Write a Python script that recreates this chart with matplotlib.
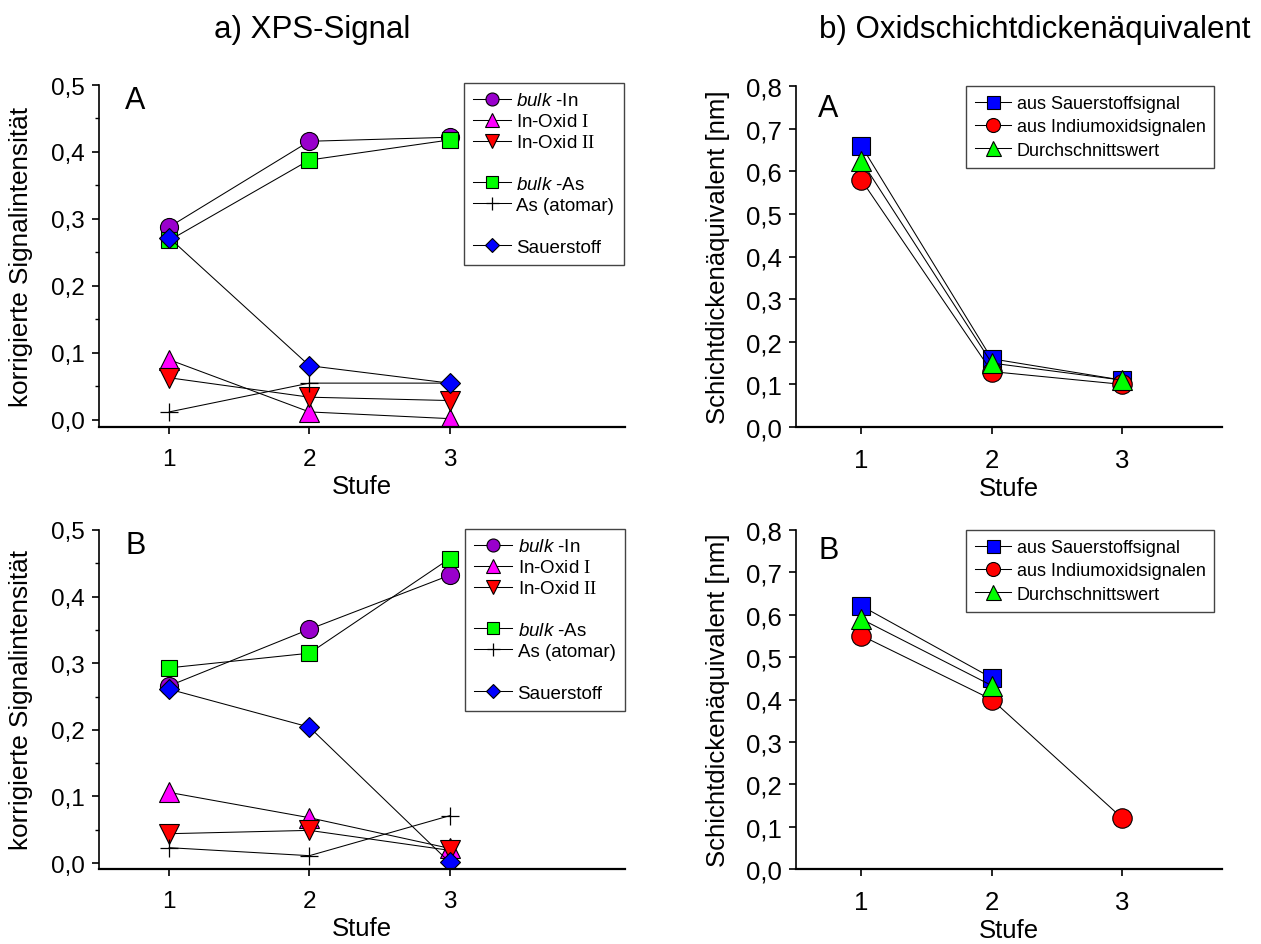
import matplotlib
matplotlib.use("Agg")
import matplotlib.pyplot as plt
from matplotlib.lines import Line2D

plt.rcParams['font.family'] = ['Liberation Sans', 'DejaVu Sans']
plt.rcParams['mathtext.fontset'] = 'custom'
plt.rcParams['mathtext.it'] = 'Liberation Sans:italic'
plt.rcParams['mathtext.rm'] = 'Liberation Serif'

# ---------------- data ----------------
stufe = [1, 2, 3]

# a) XPS-Signal, panel A
A_bulk_in = [0.288, 0.416, 0.422]
A_oxid1 = [0.090, 0.012, 0.002]
A_oxid2 = [0.063, 0.034, 0.029]
A_bulk_as = [0.268, 0.388, 0.418]
A_as_atom = [0.012, 0.055, 0.055]
A_sauer = [0.272, 0.081, 0.055]

# a) XPS-Signal, panel B
B_bulk_in = [0.266, 0.351, 0.432]
B_oxid1 = [0.106, 0.068, 0.022]
B_oxid2 = [0.044, 0.049, 0.019]
B_bulk_as = [0.293, 0.315, 0.457]
B_as_atom = [0.023, 0.011, 0.071]
B_sauer = [0.261, 0.204, 0.001]

# b) Oxidschichtdickenäquivalent
A_dick_sauer = [0.660, 0.160, 0.110]
A_dick_indium = [0.580, 0.130, 0.100]
A_dick_mittel = [0.625, 0.150, 0.110]
B_dick_stufe = [1, 2]
B_dick_sauer = [0.621, 0.451]
B_dick_indium = [0.551, 0.400, 0.120]
B_dick_mittel = [0.590, 0.433]

xps_yticks = [0.0, 0.1, 0.2, 0.3, 0.4, 0.5]
xps_yticklabels = ['0,0', '0,1', '0,2', '0,3', '0,4', '0,5']
d_yticks = [0.0, 0.1, 0.2, 0.3, 0.4, 0.5, 0.6, 0.7, 0.8]
d_yticklabels = ['0,0', '0,1', '0,2', '0,3', '0,4', '0,5', '0,6', '0,7', '0,8']

xps_labels = [r'$\mathit{bulk}$ -In', r'In-Oxid $\mathrm{I}$', r'In-Oxid $\mathrm{II}$',
              r'$\mathit{bulk}$ -As', 'As (atomar)', 'Sauerstoff']
d_labels = ['aus Sauerstoffsignal', 'aus Indiumoxidsignalen', 'Durchschnittswert']

PURPLE = '#9900CC'
MAGENTA = '#FF00FF'
RED = '#FF0000'
GREEN = '#00FF00'
BLUE = '#0000FF'

W, H = 1261, 945
fig = plt.figure(figsize=(W / 100, H / 100), dpi=100)


def add_ax(l, r, t, b):
    return fig.add_axes([l / W, 1 - b / H, (r - l) / W, (b - t) / H])


def style_ax(ax, big):
    for s in ['top', 'right']:
        ax.spines[s].set_visible(False)
    ax.spines['left'].set_linewidth(1.2)
    ax.spines['bottom'].set_linewidth(1.6)
    ax.set_xticks(stufe)
    ax.set_xticklabels(['1', '2', '3'])
    ax.tick_params(axis='both', direction='out', length=5, width=1.2,
                   labelsize=18.5 if big else 17.5)
    ax.tick_params(axis='x', pad=10)
    ax.tick_params(axis='y', pad=5)
    ax.set_xlabel('Stufe', fontsize=18.5, labelpad=3)


def xps_panel(ax, letter, bi, o1, o2, ba, aa, sa, ymin):
    lw = 0.75
    ax.plot(stufe, bi, '-', color='k', lw=lw, marker='o', ms=13, mfc=PURPLE, mec='k', mew=0.8, label=xps_labels[0])
    ax.plot(stufe, o1, '-', color='k', lw=lw, marker='^', ms=14, mfc=MAGENTA, mec='k', mew=0.8, label=xps_labels[1])
    ax.plot(stufe, o2, '-', color='k', lw=lw, marker='v', ms=14, mfc=RED, mec='k', mew=0.8, label=xps_labels[2])
    ax.plot(stufe, ba, '-', color='k', lw=lw, marker='s', ms=11.5, mfc=GREEN, mec='k', mew=0.8, label=xps_labels[3])
    ax.plot(stufe, aa, '-', color='k', lw=lw, marker='+', ms=13, mec='k', mew=0.9, label=xps_labels[4])
    ax.plot(stufe, sa, '-', color='k', lw=lw, marker='D', ms=10.5, mfc=BLUE, mec='k', mew=0.8, label=xps_labels[5])
    ax.set_xlim(0.5, 4.25)
    ax.set_ylim(ymin, 0.5)
    ax.set_yticks(xps_yticks)
    ax.set_yticklabels(xps_yticklabels)
    ax.set_yticks([0.05, 0.15, 0.25, 0.35, 0.45], minor=True)
    ax.tick_params(axis='y', which='minor', direction='out', length=3, width=1.0)
    ax.set_ylabel('korrigierte Signalintensität', fontsize=18.8, labelpad=13)
    ax.text(0.05, 1.0, letter, transform=ax.transAxes, fontsize=22, va='top', ha='left')
    h, l = ax.get_legend_handles_labels()
    blank = Line2D([], [], linestyle='none', marker=None)
    handles = [h[0], h[1], h[2], blank, h[3], h[4], blank, h[5]]
    labels = [l[0], l[1], l[2], '', l[3], l[4], '', l[5]]
    return handles, labels


def dick_panel(ax, letter, xs, s, xi, i, xm, m, ty):
    lw = 0.75
    ax.plot(xs, s, '-', color='k', lw=lw, marker='s', ms=13, mfc=BLUE, mec='k', mew=0.8, label=d_labels[0])
    ax.plot(xi, i, '-', color='k', lw=lw, marker='o', ms=14, mfc=RED, mec='k', mew=0.8, label=d_labels[1])
    ax.plot(xm, m, '-', color='k', lw=lw, marker='^', ms=15, mfc=GREEN, mec='k', mew=0.8, label=d_labels[2])
    ax.set_xlim(0.5, 3.765)
    ax.set_ylim(0.0, 0.8)
    ax.set_yticks(d_yticks)
    ax.set_yticklabels(d_yticklabels)
    ax.set_ylabel('Schichtdickenäquivalent [nm]', fontsize=18.5, labelpad=12)
    ax.text(0.052, ty, letter, transform=ax.transAxes, fontsize=22, va='top', ha='left')


LEG_KW = dict(loc='upper left', bbox_transform=fig.transFigure, frameon=True, fancybox=False,
              edgecolor='#444444', framealpha=1, handlelength=2.0, handletextpad=0.3,
              borderpad=0.5, borderaxespad=0, markerscale=0.72)

# ---- top-left
ax1 = add_ax(99, 625, 86, 428)
style_ax(ax1, False)
hd, lb = xps_panel(ax1, 'A', A_bulk_in, A_oxid1, A_oxid2, A_bulk_as, A_as_atom, A_sauer, -0.0105)
leg = ax1.legend(hd, lb, bbox_to_anchor=(464 / W, 1 - 84 / H), fontsize=13.5, labelspacing=0.2, **LEG_KW)
leg.get_frame().set_linewidth(1.0)

# ---- bottom-left
ax3 = add_ax(99, 625, 531, 870)
style_ax(ax3, False)
hd, lb = xps_panel(ax3, 'B', B_bulk_in, B_oxid1, B_oxid2, B_bulk_as, B_as_atom, B_sauer, -0.009)
leg = ax3.legend(hd, lb, bbox_to_anchor=(465 / W, 1 - 530 / H), fontsize=13.5, labelspacing=0.2, **LEG_KW)
leg.get_frame().set_linewidth(1.0)

# ---- top-right
ax2 = add_ax(796, 1222, 87, 428)
style_ax(ax2, True)
dick_panel(ax2, 'A', stufe, A_dick_sauer, stufe, A_dick_indium, stufe, A_dick_mittel, 0.98)
leg = ax2.legend(bbox_to_anchor=(966 / W, 1 - 87 / H), fontsize=13, labelspacing=0.35, **LEG_KW)
leg.get_frame().set_linewidth(1.0)

# ---- bottom-right
ax4 = add_ax(796, 1222, 531, 870)
style_ax(ax4, True)
dick_panel(ax4, 'B', B_dick_stufe, B_dick_sauer, stufe, B_dick_indium, B_dick_stufe, B_dick_mittel, 0.985)
leg = ax4.legend(bbox_to_anchor=(966 / W, 1 - 531 / H), fontsize=13, labelspacing=0.35, **LEG_KW)
leg.get_frame().set_linewidth(1.0)

fig.text(312 / W, 1 - 30 / H, 'a) XPS-Signal', fontsize=22.5, ha='center', va='center')
fig.text(1035 / W, 1 - 30 / H, 'b) Oxidschichtdickenäquivalent', fontsize=22.5, ha='center', va='center')

fig.savefig('out.png', dpi=100)
